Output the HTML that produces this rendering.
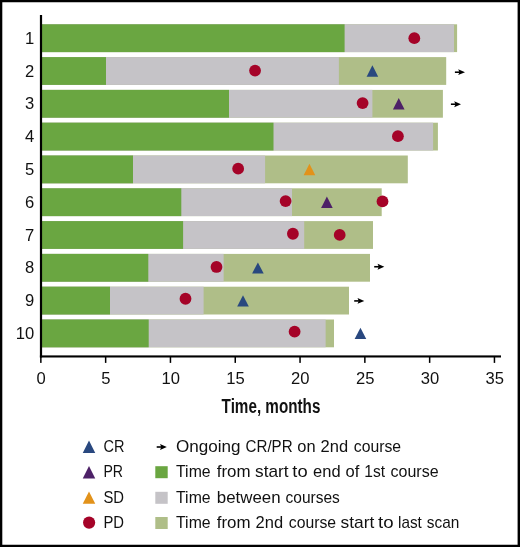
<!DOCTYPE html>
<html><head><meta charset="utf-8"><title>Swimmer plot</title>
<style>
html,body{margin:0;padding:0;background:#fff;}
body{width:520px;height:547px;overflow:hidden;font-family:"Liberation Sans",sans-serif;}
svg{display:block;will-change:transform;}
text{font-family:"Liberation Sans",sans-serif;fill:#111;}
</style></head><body>
<svg width="520" height="547" viewBox="0 0 520 547">
<rect x="0" y="0" width="520" height="547" fill="#fff"/>

<rect x="42.0" y="24.30" width="415.10" height="27.8" fill="#afbe88"/>
<rect x="42.0" y="24.30" width="412.00" height="27.8" fill="#c5c3c7"/>
<rect x="42.0" y="24.30" width="302.60" height="27.8" fill="#6aa641"/>
<rect x="42.0" y="57.10" width="404.20" height="27.8" fill="#afbe88"/>
<rect x="42.0" y="57.10" width="296.90" height="27.8" fill="#c5c3c7"/>
<rect x="42.0" y="57.10" width="64.00" height="27.8" fill="#6aa641"/>
<rect x="42.0" y="89.90" width="400.90" height="27.8" fill="#afbe88"/>
<rect x="42.0" y="89.90" width="330.40" height="27.8" fill="#c5c3c7"/>
<rect x="42.0" y="89.90" width="187.00" height="27.8" fill="#6aa641"/>
<rect x="42.0" y="122.70" width="395.90" height="27.8" fill="#afbe88"/>
<rect x="42.0" y="122.70" width="391.10" height="27.8" fill="#c5c3c7"/>
<rect x="42.0" y="122.70" width="231.50" height="27.8" fill="#6aa641"/>
<rect x="42.0" y="155.50" width="365.80" height="27.8" fill="#afbe88"/>
<rect x="42.0" y="155.50" width="223.10" height="27.8" fill="#c5c3c7"/>
<rect x="42.0" y="155.50" width="91.00" height="27.8" fill="#6aa641"/>
<rect x="42.0" y="188.30" width="339.70" height="27.8" fill="#afbe88"/>
<rect x="42.0" y="188.30" width="250.00" height="27.8" fill="#c5c3c7"/>
<rect x="42.0" y="188.30" width="139.30" height="27.8" fill="#6aa641"/>
<rect x="42.0" y="221.10" width="331.00" height="27.8" fill="#afbe88"/>
<rect x="42.0" y="221.10" width="262.20" height="27.8" fill="#c5c3c7"/>
<rect x="42.0" y="221.10" width="141.10" height="27.8" fill="#6aa641"/>
<rect x="42.0" y="253.90" width="328.00" height="27.8" fill="#afbe88"/>
<rect x="42.0" y="253.90" width="181.65" height="27.8" fill="#c5c3c7"/>
<rect x="42.0" y="253.90" width="106.30" height="27.8" fill="#6aa641"/>
<rect x="42.0" y="286.70" width="307.00" height="27.8" fill="#afbe88"/>
<rect x="42.0" y="286.70" width="161.60" height="27.8" fill="#c5c3c7"/>
<rect x="42.0" y="286.70" width="68.00" height="27.8" fill="#6aa641"/>
<rect x="42.0" y="319.50" width="292.00" height="27.8" fill="#afbe88"/>
<rect x="42.0" y="319.50" width="283.65" height="27.8" fill="#c5c3c7"/>
<rect x="42.0" y="319.50" width="106.70" height="27.8" fill="#6aa641"/>
<circle cx="414.30" cy="38.15" r="5.9" fill="#a50328"/>
<circle cx="255.05" cy="70.55" r="5.9" fill="#a50328"/>
<circle cx="362.60" cy="103.10" r="5.9" fill="#a50328"/>
<circle cx="397.90" cy="136.14" r="5.9" fill="#a50328"/>
<circle cx="238.15" cy="168.65" r="5.9" fill="#a50328"/>
<circle cx="285.60" cy="201.07" r="5.9" fill="#a50328"/>
<circle cx="382.50" cy="201.40" r="5.9" fill="#a50328"/>
<circle cx="292.90" cy="233.75" r="5.9" fill="#a50328"/>
<circle cx="339.70" cy="234.90" r="5.9" fill="#a50328"/>
<circle cx="216.50" cy="266.97" r="5.9" fill="#a50328"/>
<circle cx="185.50" cy="298.75" r="5.9" fill="#a50328"/>
<circle cx="294.60" cy="331.70" r="5.9" fill="#a50328"/>
<polygon points="372.40,65.20 378.20,76.70 366.60,76.70" fill="#29487f"/>
<polygon points="398.75,97.90 404.55,109.40 392.95,109.40" fill="#4d2167"/>
<polygon points="309.45,163.70 315.25,175.20 303.65,175.20" fill="#e2921a"/>
<polygon points="326.90,196.50 332.70,207.96 321.10,207.96" fill="#4d2167"/>
<polygon points="257.90,262.40 263.70,273.50 252.10,273.50" fill="#29487f"/>
<polygon points="243.00,295.30 248.80,306.40 237.20,306.40" fill="#29487f"/>
<polygon points="360.45,327.70 366.25,339.10 354.65,339.10" fill="#29487f"/>
<path d="M454.90 71.41H460.40V73.01H454.90Z" fill="#000"/><path d="M458.20 69.31L465.00 72.21L458.20 75.11L459.50 72.21Z" fill="#000"/>
<path d="M450.90 103.43H456.40V105.03H450.90Z" fill="#000"/><path d="M454.20 101.33L461.00 104.23L454.20 107.13L455.50 104.23Z" fill="#000"/>
<path d="M374.20 265.95H379.70V267.55H374.20Z" fill="#000"/><path d="M377.50 263.85L384.30 266.75L377.50 269.65L378.80 266.75Z" fill="#000"/>
<path d="M354.20 300.12H359.70V301.72H354.20Z" fill="#000"/><path d="M357.50 298.02L364.30 300.92L357.50 303.82L358.80 300.92Z" fill="#000"/>
<rect x="39.9" y="15" width="2.2" height="342.5" fill="#000"/>
<rect x="39.9" y="355.4" width="461.1" height="2.1" fill="#000"/>
<rect x="40.10" y="357" width="1.5" height="5.9" fill="#000"/>
<rect x="104.90" y="357" width="1.5" height="5.9" fill="#000"/>
<rect x="169.70" y="357" width="1.5" height="5.9" fill="#000"/>
<rect x="234.50" y="357" width="1.5" height="5.9" fill="#000"/>
<rect x="299.30" y="357" width="1.5" height="5.9" fill="#000"/>
<rect x="364.10" y="357" width="1.5" height="5.9" fill="#000"/>
<rect x="428.90" y="357" width="1.5" height="5.9" fill="#000"/>
<rect x="493.70" y="357" width="1.5" height="5.9" fill="#000"/>
<text x="34.3" y="43.80" font-size="16.6" text-anchor="end">1</text>
<text x="34.3" y="76.60" font-size="16.6" text-anchor="end">2</text>
<text x="34.3" y="109.40" font-size="16.6" text-anchor="end">3</text>
<text x="34.3" y="142.20" font-size="16.6" text-anchor="end">4</text>
<text x="34.3" y="175.00" font-size="16.6" text-anchor="end">5</text>
<text x="34.3" y="207.80" font-size="16.6" text-anchor="end">6</text>
<text x="34.3" y="240.60" font-size="16.6" text-anchor="end">7</text>
<text x="34.3" y="273.40" font-size="16.6" text-anchor="end">8</text>
<text x="34.3" y="306.20" font-size="16.6" text-anchor="end">9</text>
<text x="34.3" y="339.00" font-size="16.6" text-anchor="end">10</text>
<text x="41.15" y="384.3" font-size="16.6" text-anchor="middle">0</text>
<text x="105.95" y="384.3" font-size="16.6" text-anchor="middle">5</text>
<text x="170.75" y="384.3" font-size="16.6" text-anchor="middle">10</text>
<text x="235.55" y="384.3" font-size="16.6" text-anchor="middle">15</text>
<text x="300.35" y="384.3" font-size="16.6" text-anchor="middle">20</text>
<text x="365.15" y="384.3" font-size="16.6" text-anchor="middle">25</text>
<text x="429.95" y="384.3" font-size="16.6" text-anchor="middle">30</text>
<text x="494.75" y="384.3" font-size="16.6" text-anchor="middle">35</text>
<text x="221.6" y="412.6" font-size="20.3" font-weight="bold" textLength="98.8" lengthAdjust="spacingAndGlyphs" fill="#000">Time, months</text>
<polygon points="89.00,440.40 95.25,453.10 82.75,453.10" fill="#29487f"/>
<polygon points="89.00,466.00 95.25,478.50 82.75,478.50" fill="#4d2167"/>
<polygon points="89.00,491.40 95.25,503.80 82.75,503.80" fill="#e2921a"/>
<circle cx="89.1" cy="522.6" r="6.1" fill="#a50328"/>
<text x="103.4" y="451.8" font-size="16.2" textLength="21.0" lengthAdjust="spacingAndGlyphs">CR</text>
<text x="103.4" y="477.05" font-size="16.2" textLength="19.6" lengthAdjust="spacingAndGlyphs">PR</text>
<text x="103.4" y="502.55" font-size="16.2" textLength="20.6" lengthAdjust="spacingAndGlyphs">SD</text>
<text x="103.4" y="527.55" font-size="16.2" textLength="20.6" lengthAdjust="spacingAndGlyphs">PD</text>
<path d="M156.70 446.20H162.20V447.80H156.70Z" fill="#000"/><path d="M160.00 444.10L166.80 447.00L160.00 449.90L161.30 447.00Z" fill="#000"/>
<rect x="155.3" y="466.2" width="12.4" height="12" fill="#6aa641"/>
<rect x="155.3" y="491.8" width="12.4" height="12" fill="#c5c3c7"/>
<rect x="155.3" y="517" width="12.4" height="12" fill="#afbe88"/>
<text x="176.05" y="451.8" font-size="16.2" textLength="64.55" lengthAdjust="spacingAndGlyphs">Ongoing</text>
<text x="245.55" y="451.8" font-size="16.2" textLength="47.05" lengthAdjust="spacingAndGlyphs">CR/PR</text>
<text x="297.30" y="451.8" font-size="16.2" textLength="18.30" lengthAdjust="spacingAndGlyphs">on</text>
<text x="320.55" y="451.8" font-size="16.2" textLength="27.55" lengthAdjust="spacingAndGlyphs">2nd</text>
<text x="353.80" y="451.8" font-size="16.2" textLength="47.30" lengthAdjust="spacingAndGlyphs">course</text>
<text x="176.05" y="477.05" font-size="16.2" textLength="34.55" lengthAdjust="spacingAndGlyphs">Time</text>
<text x="216.80" y="477.05" font-size="16.2" textLength="33.80" lengthAdjust="spacingAndGlyphs">from</text>
<text x="255.05" y="477.05" font-size="16.2" textLength="33.55" lengthAdjust="spacingAndGlyphs">start</text>
<text x="292.30" y="477.05" font-size="16.2" textLength="15.30" lengthAdjust="spacingAndGlyphs">to</text>
<text x="313.05" y="477.05" font-size="16.2" textLength="27.55" lengthAdjust="spacingAndGlyphs">end</text>
<text x="345.55" y="477.05" font-size="16.2" textLength="13.80" lengthAdjust="spacingAndGlyphs">of</text>
<text x="364.30" y="477.05" font-size="16.2" textLength="20.80" lengthAdjust="spacingAndGlyphs">1st</text>
<text x="390.55" y="477.05" font-size="16.2" textLength="48.05" lengthAdjust="spacingAndGlyphs">course</text>
<text x="176.05" y="502.55" font-size="16.2" textLength="34.55" lengthAdjust="spacingAndGlyphs">Time</text>
<text x="216.80" y="502.55" font-size="16.2" textLength="63.80" lengthAdjust="spacingAndGlyphs">between</text>
<text x="285.55" y="502.55" font-size="16.2" textLength="54.30" lengthAdjust="spacingAndGlyphs">courses</text>
<text x="176.05" y="527.55" font-size="16.2" textLength="34.55" lengthAdjust="spacingAndGlyphs">Time</text>
<text x="216.80" y="527.55" font-size="16.2" textLength="33.80" lengthAdjust="spacingAndGlyphs">from</text>
<text x="255.55" y="527.55" font-size="16.2" textLength="27.55" lengthAdjust="spacingAndGlyphs">2nd</text>
<text x="288.80" y="527.55" font-size="16.2" textLength="47.30" lengthAdjust="spacingAndGlyphs">course</text>
<text x="340.55" y="527.55" font-size="16.2" textLength="33.80" lengthAdjust="spacingAndGlyphs">start</text>
<text x="378.05" y="527.55" font-size="16.2" textLength="15.55" lengthAdjust="spacingAndGlyphs">to</text>
<text x="398.05" y="527.55" font-size="16.2" textLength="23.80" lengthAdjust="spacingAndGlyphs">last</text>
<text x="426.80" y="527.55" font-size="16.2" textLength="32.55" lengthAdjust="spacingAndGlyphs">scan</text>
<path d="M0 0H520V547H0Z M2.3 2.15H517.6V544.7H2.3Z" fill="#000" fill-rule="evenodd"/>
</svg></body></html>
